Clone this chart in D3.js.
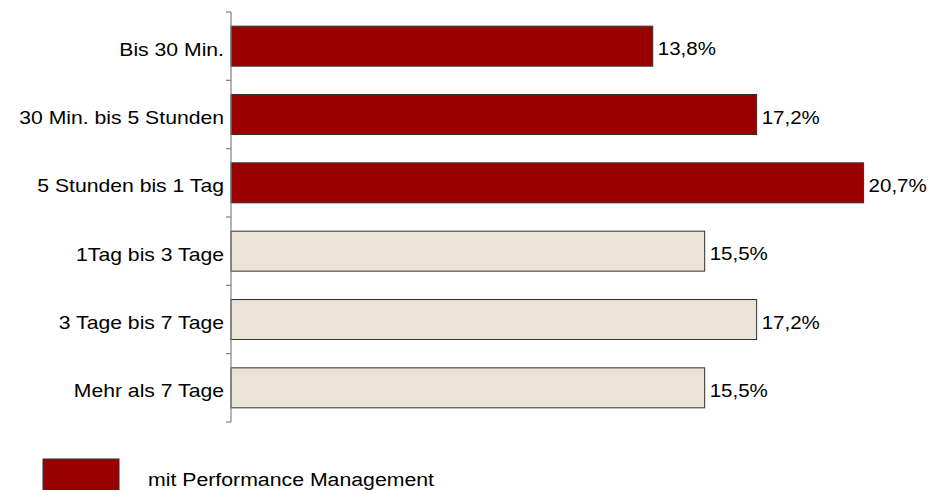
<!DOCTYPE html>
<html>
<head>
<meta charset="utf-8">
<script src="https://cdn.jsdelivr.net/npm/d3@7"></script>
<style>
  html, body { margin: 0; padding: 0; background: #fff; }
  svg { display: block; }
  text { font-family: "Liberation Sans", Arial, sans-serif; fill: #000; }
</style>
</head>
<body>
<svg id="chart" width="943" height="490"></svg>
<script>
const categories = ["Bis 30 Min.", "30 Min. bis 5 Stunden", "5 Stunden bis 1 Tag", "1Tag bis 3 Tage", "3 Tage bis 7 Tage", "Mehr als 7 Tage"];
const values = [13.8, 17.2, 20.7, 15.5, 17.2, 15.5];
const groups = ["mit", "mit", "mit", "ohne", "ohne", "ohne"];
const legendLabels = ["mit Performance Management"];

const colorMap = { mit: "#990000", ohne: "#EAE3D6" };
const fmt = v => d3.format(".1f")(v).replace(".", ",") + "%";

const svg = d3.select("#chart");
const axisX = 231;
const x = d3.scaleLinear().domain([0, 22]).range([axisX, axisX + 22 * 30.56]);
const y = d3.scaleBand().domain(categories).range([12, 422]).paddingInner(0.415).paddingOuter(0.2075);

const fontSize = 19;

function stretchedText(parent, tx, ty, str, anchor, sx) {
  const g = parent.append("g").attr("transform", `translate(${tx},${ty}) scale(${sx},1)`);
  g.append("text").attr("x", 0).attr("y", 0).attr("text-anchor", anchor)
    .style("font-size", fontSize + "px").text(str);
  return g;
}

// bars
svg.append("g").selectAll("rect").data(categories).join("rect")
  .attr("x", x(0))
  .attr("y", d => y(d))
  .attr("width", (d, i) => x(values[i]) - x(0))
  .attr("height", y.bandwidth())
  .attr("fill", (d, i) => colorMap[groups[i]])
  .attr("stroke", "#303030")
  .attr("stroke-width", 1);

// axis line and ticks at band boundaries
const step = y.step();
const tickYs = categories.map(c => y(c) - (step - y.bandwidth()) / 2).concat([y.range()[1]]);
const ax = svg.append("g");
ax.append("line").attr("x1", axisX).attr("x2", axisX).attr("y1", y.range()[0]).attr("y2", y.range()[1])
  .attr("stroke", "#808080").attr("stroke-width", 1.2);
ax.selectAll("line.tick").data(tickYs).join("line").attr("class", "tick")
  .attr("x1", axisX - 5).attr("x2", axisX).attr("y1", d => d).attr("y2", d => d)
  .attr("stroke", "#808080").attr("stroke-width", 1.2);

// category labels
const labG = svg.append("g");
categories.forEach((c, i) => {
  stretchedText(labG, axisX - 7, y(c) + y.bandwidth() / 2 + 9.5, c, "end", 1.115);
});

// value labels
const valG = svg.append("g");
categories.forEach((c, i) => {
  stretchedText(valG, x(values[i]) + 5, y(c) + y.bandwidth() / 2 + 9, fmt(values[i]), "start", 1.08);
});

// legend
const lg = svg.append("g");
legendLabels.forEach((l, i) => {
  lg.append("rect").attr("x", 43).attr("y", 459).attr("width", 76).attr("height", 40)
    .attr("fill", colorMap.mit).attr("stroke", "#303030").attr("stroke-width", 1);
  stretchedText(lg, 148, 486, l, "start", 1.12);
});
</script>
</body>
</html>
